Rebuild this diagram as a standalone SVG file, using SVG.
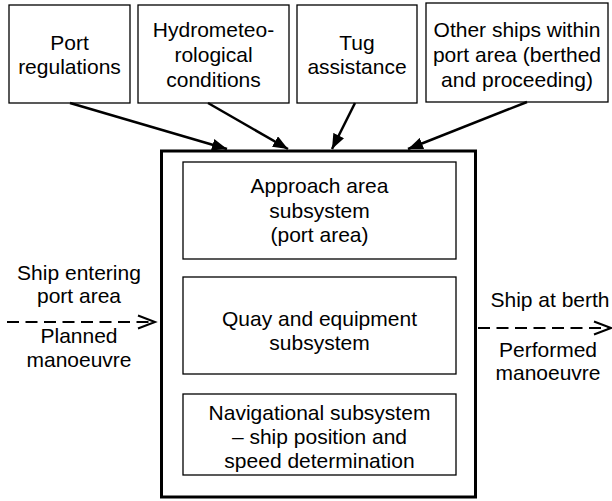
<svg xmlns="http://www.w3.org/2000/svg" width="612" height="501" viewBox="0 0 612 501">
<style>
text{font-family:"Liberation Sans",Arial,sans-serif;font-size:21px;fill:#000;text-anchor:middle}
.box{fill:#fff;stroke:#000;stroke-width:1.3}
.main{fill:#fff;stroke:#000;stroke-width:3}
.solid{stroke:#000;stroke-width:2.5;fill:none}
.dash{stroke:#000;stroke-width:2;fill:none;stroke-dasharray:12 6.5}
.chev{stroke:#000;stroke-width:2;fill:none}
</style>
<defs>
<marker id="ah" markerUnits="userSpaceOnUse" markerWidth="16" markerHeight="12" refX="15" refY="6" orient="auto">
<path d="M0,0 L15,6 L0,12 Z" fill="#000"/>
</marker>
</defs>
<rect id="bg" x="0" y="0" width="612" height="501" fill="#fff"/>
<g id="n-main"><rect class="main" x="161.5" y="151" width="314" height="346"/></g>
<g id="n-port"><rect class="box" x="9" y="5" width="121" height="98"/>
<text x="69.5" y="50">Port</text><text x="69.5" y="74">regulations</text></g>
<g id="n-hydro"><rect class="box" x="138" y="5" width="151" height="98"/>
<text x="213.5" y="37">Hydrometeo-</text><text x="213.5" y="62">rological</text><text x="213.5" y="87">conditions</text></g>
<g id="n-tug"><rect class="box" x="297" y="5" width="120" height="98"/>
<text x="357" y="50">Tug</text><text x="357" y="74">assistance</text></g>
<g id="n-other"><rect class="box" x="426" y="3" width="182" height="99"/>
<text x="517" y="37">Other ships within</text><text x="517" y="62">port area (berthed</text><text x="517" y="87">and proceeding)</text></g>
<g id="n-approach"><rect class="box" x="183" y="162" width="273" height="97"/>
<text x="319.5" y="193">Approach area</text><text x="319.5" y="218">subsystem</text><text x="319.5" y="242">(port area)</text></g>
<g id="n-quay"><rect class="box" x="183" y="277" width="273" height="97"/>
<text x="319.5" y="326">Quay and equipment</text><text x="319.5" y="350">subsystem</text></g>
<g id="n-nav"><rect class="box" x="183" y="394" width="273" height="81"/>
<text x="319.5" y="420">Navigational subsystem</text><text x="319.5" y="444">– ship position and</text><text x="319.5" y="468">speed determination</text></g>
<g id="labels">
<text x="79" y="280">Ship entering</text><text x="79" y="303">port area</text>
<text x="79" y="343">Planned</text><text x="79" y="367">manoeuvre</text>
<text x="550" y="307">Ship at berth</text>
<text x="548" y="357">Performed</text><text x="548" y="380">manoeuvre</text>
</g>
<g id="connectors">
<line class="solid" x1="70" y1="103" x2="227" y2="149" marker-end="url(#ah)"/>
<line class="solid" x1="208" y1="103" x2="288" y2="149" marker-end="url(#ah)"/>
<line class="solid" x1="355" y1="103" x2="332" y2="149" marker-end="url(#ah)"/>
<line class="solid" x1="527" y1="102" x2="408" y2="149" marker-end="url(#ah)"/>
<line class="dash" x1="7" y1="322" x2="153" y2="322"/>
<path class="chev" d="M138,315.5 L155,322 L138,328.5"/>
<line class="dash" x1="478" y1="328" x2="609" y2="328"/>
<path class="chev" d="M594,321.5 L611,328 L594,334.5"/>
</g>
</svg>
